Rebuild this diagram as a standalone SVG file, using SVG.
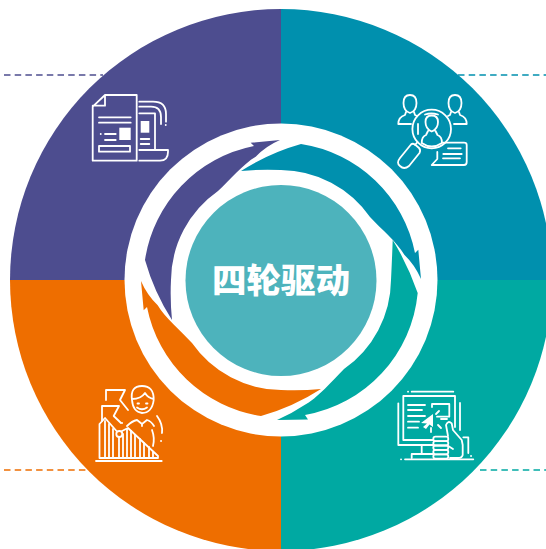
<svg xmlns="http://www.w3.org/2000/svg" width="546" height="549" viewBox="0 0 546 549">
<style>
.i{fill:none;stroke:#fff;stroke-width:1.8;stroke-linecap:round;stroke-linejoin:round}
.w{fill:#fff;stroke:none}
.d{fill:none;stroke-width:1.3;stroke-dasharray:6.5 4.2}
</style>
<defs>
<path id="arrow" d="M145 260A137 137 0 0 1 254 146L250.700 142.700L280 140Q266 146 255.700 156.700C243 164 230 180 218 191A110 110 0 0 0 171 280Q170 300 172 320Q154 292 145 260Z"/>
</defs>
<rect width="546" height="549" fill="#fff"/>
<g id="wheel">
<path d="M281 280V9A271 271 0 0 0 10 280Z" fill="#4d4d8f"/>
<path d="M281 280V9A271 271 0 0 1 552 280Z" fill="#0090ae"/>
<path d="M281 280H552A271 271 0 0 1 281 551Z" fill="#00a9a2"/>
<path d="M281 280V551A271 271 0 0 1 10 280Z" fill="#ee6e00"/>
<circle cx="281" cy="280" r="156.500" fill="#fff"/>
</g>
<g id="connectors">
<line class="d" x1="4" y1="75" x2="103" y2="75" stroke="#4d4d8f"/>
<line class="d" x1="458" y1="75" x2="546" y2="75" stroke="#0090ae"/>
<line class="d" x1="4" y1="470" x2="86" y2="470" stroke="#ee6e00"/>
<line class="d" x1="480" y1="470" x2="546" y2="470" stroke="#00a9a2"/>
</g>
<g id="arrow-purple"><use href="#arrow" fill="#4d4d8f"/></g>
<g id="arrow-blue"><use href="#arrow" fill="#0090ae" transform="rotate(90 281 280)"/></g>
<g id="arrow-green"><path fill="#00a9a2" d="M417.700 293A137 137 0 0 1 305 415L308 419.500L277 420Q291 414 303.300 405.700C318 398 332 381 344 369A110 110 0 0 0 391 280Q392 260 392.700 240Q408 265 417.700 293Z"/></g>
<g id="arrow-orange"><use href="#arrow" fill="#ee6e00" transform="rotate(-90 281 280)"/></g>
<g id="center">
<circle cx="281" cy="280.500" r="95.500" fill="#4db3bc"/>
<text x="281" y="293" text-anchor="middle" font-family="'Noto Sans CJK SC',sans-serif" font-weight="900" font-size="34.500" fill="#fff">四轮驱动</text>
</g>
<g id="icon-docs" class="i">
<path d="M92.700 106.700L105 95H136.700V160.700H92.700ZM105 95V105.700H92.700"/>
<path d="M99 117.300H130.700M99 122.700H130.700M105 134H115.700M105 140H115.700M100.700 134h.1"/>
<rect class="w" x="119.300" y="127.700" width="11.400" height="12.300"/>
<rect x="99" y="146" width="31" height="5.700"/>
<path d="M139.300 113.300H155V150M139.300 150H168V152Q168 160.700 160 160.700H139.300M139.300 101.700H153Q166 101.700 166 114V121.700M139.300 106.700H151Q161 106.700 161 117V124M165.700 125h.1M140.700 139H149.300M140.700 144H149.300"/>
<rect class="w" x="140.700" y="121" width="8.600" height="11.700"/>
</g>
<g id="icon-search" class="i">
<circle cx="431.700" cy="129" r="19.300"/>
<path d="M418 124V134M425 114.500Q431 112.500 438 114.500"/>
<path d="M425.500 122Q425.500 115.500 431.700 115.500Q438 115.500 438 122Q438 129 431.700 131.500Q425.500 129 425.500 122ZM428 131L426 135Q421.700 136.500 421.700 143M435.500 131L437.500 135Q442 136.500 442 143M421.700 143Q431.700 150 442 143"/>
<path d="M403.500 103Q403.500 95 410 95Q416.500 95 416.500 103Q416.500 111 410 113Q403.500 111 403.500 103ZM406 112L405 115Q398.300 117 398.300 124H411M414 112L415 115L417 116"/>
<path d="M448.500 103Q448.500 95 455 95Q461.500 95 461.500 103Q461.500 111 455 113Q448.500 111 448.500 103ZM451 112L450 115L448 116M459 112L460 115Q466.700 117 466.700 124H454"/>
<path d="M417.500 142L415 145M411 144.500L400 158Q396 163 400 166Q404 170 409 166L419.500 153Q421 150 419 148L415 144.500Q412.500 143 411 144.500Z"/>
<path d="M443 142.700H464Q466.700 142.700 466.700 145V162Q466.700 165 464 165H431.700L437.300 159V152M448 148.300H460.700M443.300 154H461.700M443 158.300H460"/>
</g>
<g id="icon-monitor" class="i">
<path d="M398.300 403.300V445H433M403.300 405V396H455V427M403.300 405V440H433M460 403V430M411.700 391.700H453.300M408 391.700h.1M421.700 445V454M411.700 458V454H433"/>
<path d="M408 405H425M408 410H422M408 416H425M408 421.700H419M408 427.700H418M432 407V404H449.300V416.700H437M436 414L439 411M431 428V432M438 425L441 428M441 419H447"/>
<path class="w" d="M421 423L433 414L433 427L429.500 424.500L426 429L423 427L427 423.500Z"/>
<path d="M405 459.300H473.300M401 459.300h.1M471 456h.1"/>
<rect x="433.300" y="436.700" width="15" height="4.400" rx="2.200"/>
<rect x="433.300" y="441.100" width="15" height="4.400" rx="2.200"/>
<rect x="433.300" y="445.500" width="15" height="4.400" rx="2.200"/>
<rect x="433.300" y="449.900" width="15" height="4.400" rx="2.200"/>
<rect x="433.300" y="454.300" width="15" height="4.400" rx="2.200"/>
<path d="M448 436L446 425Q448 420 451.700 423.300L453 430L461.700 440L462.700 445V455Q462 458 458 458H450M448.300 446L453 449M463.300 437.300H468.300V453"/>
</g>
<g id="icon-growth" class="i">
<path d="M102 421V406H119L113.700 416L121 423"/>
<path d="M106 400V390H125L120 400L128 410"/>
<path d="M132 400Q130 386 142 386Q154 386 153.700 400Q152 413 142 413Q133 412 132 400ZM132 399Q141 399 145 393Q148 398 153.700 399"/>
<path d="M137.500 403.500h1.500M146 403.500h1.500M137 407.500Q142 411 147 407.500"/>
<path d="M127 426Q132 421 137 420L142 424L147 420Q151 421 154 426M142 424V426M157 416Q163 424 162 433M161 441h.1M152 430Q155 438 153 446M122 423h.1"/>
<path d="M96 461H161.700"/>
<path d="M99.500 458V424L105 418L116.500 431M122 431L128 428L158 456V458H99.500"/>
<path d="M105 458V421M109 458V424M113 458V429M119 458V437M123 458V434M127 458V429M131 458V431M135 458V435M140 458V439M144 458V443M149 458V447M153 458V452"/>
<circle cx="119.300" cy="434" r="3"/>
</g>
</svg>
